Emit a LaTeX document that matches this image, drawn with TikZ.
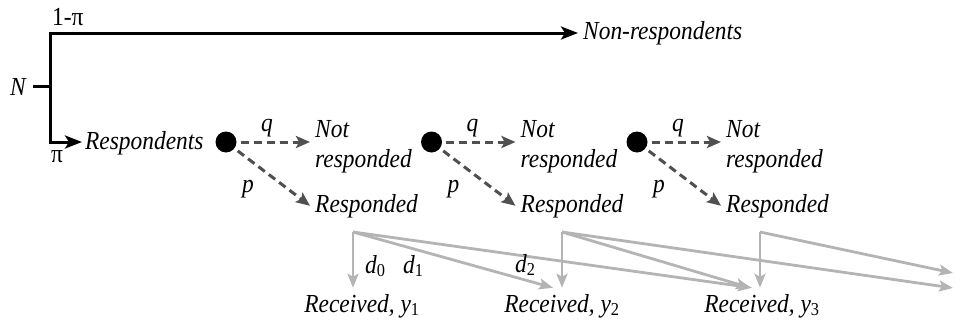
\documentclass[tikz,border=0pt]{standalone}
\usepackage{fontspec}
\setmainfont{Liberation Serif}[FakeStretch=0.9]
\usetikzlibrary{arrows.meta,calc}
\definecolor{dashgray}{HTML}{505050}
\definecolor{litegray}{HTML}{B4B4B4}
\begin{document}
\begin{tikzpicture}[x=1pt,y=-1pt,
  txt/.style={font=\fontsize{26}{30}\selectfont\itshape, inner xsep=5pt, inner ysep=0pt},
  rtxt/.style={font=\fontsize{26}{30}\selectfont, inner sep=0pt},
  ltxt/.style={font=\fontsize{26}{30}\selectfont\itshape, inner sep=0pt},
  rec/.style={font=\fontsize{26}{30}\selectfont\itshape, inner xsep=0pt, inner ysep=6pt, anchor=base},
  dot/.style={circle, fill=black, minimum size=21pt, inner sep=0pt},
  bline/.style={line width=3pt, line join=miter},
  darr/.style={dashgray, line width=3pt, dash pattern=on 8pt off 5pt, shorten <=4pt,
    -{Stealth[length=14pt,width=12pt,inset=3pt]}},
  garr/.style={litegray, line width=2.8pt, line join=miter,
    -{Stealth[length=14pt,width=11pt,inset=3pt]}},
]
\useasboundingbox (0,0) rectangle (956,324);

% left tree
\node[ltxt, anchor=base west] (N) at (10,95) {N};
\node[rtxt, anchor=base west] (onempi) at (52,25) {1-π};
\node[rtxt, anchor=base] (pi) at (57,162) {π};
\node[txt, anchor=west] (nonresp) at (578,33) {Non-respondents};
\node[txt, anchor=west, inner xsep=3pt] (resp) at (82,143) {Respondents};
\coordinate (c1) at (50,33);
\coordinate (c2) at (50,142);
\draw[bline] ($(N.east)+(7,0)$) -- (N.east -| c1);
\draw[bline, {Stealth[length=17pt,width=13pt,inset=4pt]}-{Stealth[length=17pt,width=13pt,inset=4pt]}]
  (nonresp.west) -- (c1) -- (c2) -- (resp.west |- c2);

% three stages
\foreach \i/\x in {1/226, 2/431.5, 3/637} {
  \node[dot] (dot\i) at (\x,142) {};
  \node[txt, anchor=west] (not\i) at (\x+84,146)
    {\begin{tabular}{@{}l@{}}Not\\responded\end{tabular}};
  \node[txt, anchor=base west] (rsp\i) at (\x+84,212) {Responded};
  \draw[darr] (dot\i) -- (dot\i -| not\i.west);
  \draw[darr] (dot\i) -- (rsp\i.west);
  \node[ltxt, anchor=base] (q\i) at (\x+41,131) {q};
  \node[ltxt, anchor=base] (p\i) at (\x+22,192) {p};
}

% received
\node[rec] (rec1) at (362,312) {Received, \textit{y}\textsubscript{\upshape 1}};
\node[rec] (rec2) at (562,312) {Received, \textit{y}\textsubscript{\upshape 2}};
\node[rec] (rec3) at (762,312) {Received, \textit{y}\textsubscript{\upshape 3}};

\coordinate (g1) at (353,232);
\coordinate (g2) at (562,232);
\coordinate (g3) at (760,232);
\coordinate (far1) at (953,273);
\coordinate (far2) at (953,288);

\draw[garr] (g1) -- (g1 |- rec1.north);
\draw[garr] (g1) -- ($(rec2.north)+(-9,0)$);
\draw[garr] (g1) -- ($(rec3.north)+(-10,0)$);
\draw[garr] (g2) -- (g2 |- rec2.north);
\draw[garr] (g2) -- ($(rec3.north)+(-12,0)$);
\draw[garr] (g2) -- (far2);
\draw[garr] (g3) -- (g3 |- rec3.north);
\draw[garr] (g3) -- (far1);

\node[ltxt, anchor=base west] (d0) at (365,273) {d\textsubscript{\upshape 0}};
\node[ltxt, anchor=base west] (d1) at (403,273) {d\textsubscript{\upshape 1}};
\node[ltxt, anchor=base west] (d2) at (515,272) {d\textsubscript{\upshape 2}};
\end{tikzpicture}
\end{document}
